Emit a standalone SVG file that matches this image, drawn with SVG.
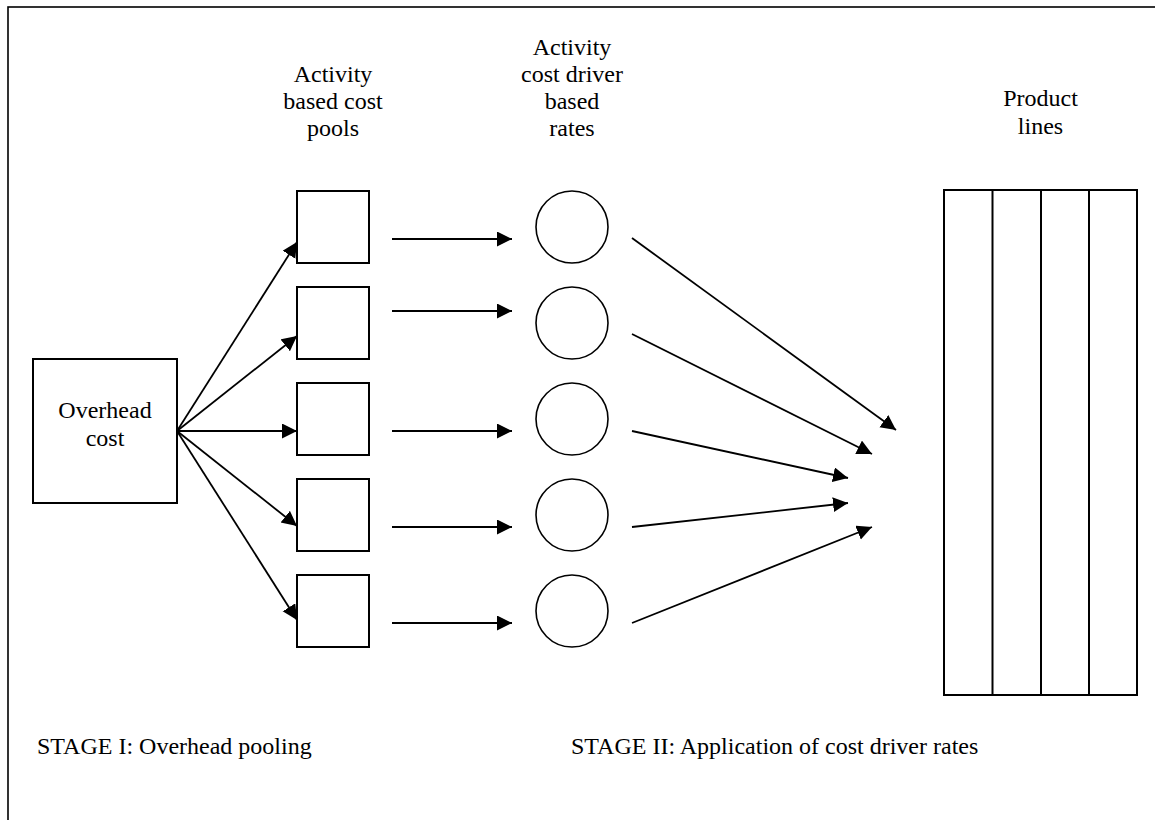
<svg xmlns="http://www.w3.org/2000/svg" width="1155" height="820" viewBox="0 0 1155 820">
<defs>
<style>
text{font-family:"Liberation Serif","Times New Roman",serif;font-size:24px;fill:#000}
.c{text-anchor:middle}
.box{fill:#fff;stroke:#000;stroke-width:2}
.circ{fill:#fff;stroke:#000;stroke-width:1.6}
.conn line{stroke:#000;stroke-width:1.8;marker-end:url(#ah)}
</style>
<marker id="ah" markerUnits="userSpaceOnUse" markerWidth="16" markerHeight="16" refX="15" refY="7.5" orient="auto">
<path d="M0,0 L15,7.5 L0,15 z" fill="#000"/>
</marker>
</defs>
<rect x="0" y="0" width="1155" height="820" fill="#fff"/>
<rect id="frame" x="8" y="7" width="1170" height="840" fill="none" stroke="#000" stroke-width="1.6"/>

<g id="overhead">
<rect class="box" x="33" y="359" width="144" height="144"/>
<text class="c" x="105" y="418">Overhead</text>
<text class="c" x="105" y="446">cost</text>
</g>

<g id="pools-label">
<text class="c" x="333" y="82">Activity</text>
<text class="c" x="333" y="109">based cost</text>
<text class="c" x="333" y="136">pools</text>
</g>
<g id="rates-label">
<text class="c" x="572" y="55">Activity</text>
<text class="c" x="572" y="82">cost driver</text>
<text class="c" x="572" y="109">based</text>
<text class="c" x="572" y="136">rates</text>
</g>

<g id="pool1"><rect class="box" x="297" y="191" width="72" height="72"/></g>
<g id="pool2"><rect class="box" x="297" y="287" width="72" height="72"/></g>
<g id="pool3"><rect class="box" x="297" y="383" width="72" height="72"/></g>
<g id="pool4"><rect class="box" x="297" y="479" width="72" height="72"/></g>
<g id="pool5"><rect class="box" x="297" y="575" width="72" height="72"/></g>

<g id="rate1"><circle class="circ" cx="572" cy="227" r="36"/></g>
<g id="rate2"><circle class="circ" cx="572" cy="323" r="36"/></g>
<g id="rate3"><circle class="circ" cx="572" cy="419" r="36"/></g>
<g id="rate4"><circle class="circ" cx="572" cy="515" r="36"/></g>
<g id="rate5"><circle class="circ" cx="572" cy="611" r="36"/></g>

<g id="product-lines">
<text class="c" x="1040.5" y="106">Product</text>
<text class="c" x="1040.5" y="134">lines</text>
<rect class="box" x="944" y="190" width="193" height="505"/>
<line x1="992.5" y1="190" x2="992.5" y2="695" stroke="#000" stroke-width="2"/>
<line x1="1041" y1="190" x2="1041" y2="695" stroke="#000" stroke-width="2"/>
<line x1="1089" y1="190" x2="1089" y2="695" stroke="#000" stroke-width="2"/>
</g>

<g id="connectors" class="conn">
<line x1="177" y1="431" x2="297" y2="242"/>
<line x1="177" y1="431" x2="297" y2="336"/>
<line x1="177" y1="431" x2="297" y2="431"/>
<line x1="177" y1="431" x2="297" y2="526"/>
<line x1="177" y1="431" x2="297" y2="620"/>
<line x1="392" y1="239" x2="512" y2="239"/>
<line x1="392" y1="311" x2="512" y2="311"/>
<line x1="392" y1="431" x2="512" y2="431"/>
<line x1="392" y1="527" x2="512" y2="527"/>
<line x1="392" y1="623" x2="512" y2="623"/>
<line x1="632" y1="238" x2="896" y2="430"/>
<line x1="632" y1="334" x2="872" y2="454"/>
<line x1="632" y1="431" x2="848" y2="478"/>
<line x1="632" y1="527" x2="848" y2="503"/>
<line x1="632" y1="623" x2="872" y2="527"/>
</g>

<g id="stages">
<text x="37" y="754">STAGE I: Overhead pooling</text>
<text x="571" y="754">STAGE II: Application of cost driver rates</text>
</g>
</svg>
